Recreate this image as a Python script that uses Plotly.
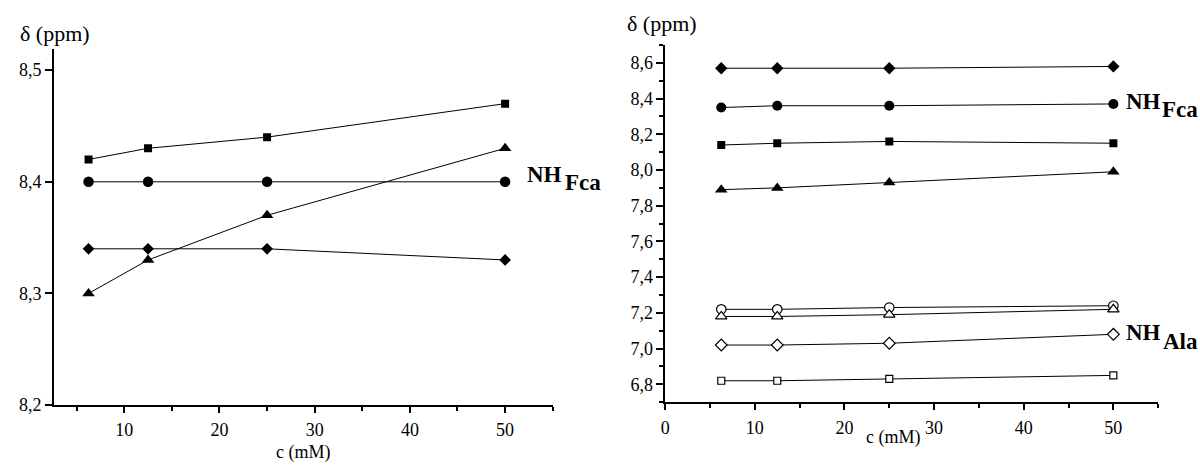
import plotly.graph_objects as go

W, H = 1200, 466

# ---- data ----
conc = [6.25, 12.5, 25, 50]

# left panel (NH Fca)
left_square = [8.42, 8.43, 8.44, 8.47]
left_circle = [8.40, 8.40, 8.40, 8.40]
left_triangle = [8.30, 8.33, 8.37, 8.43]
left_diamond = [8.34, 8.34, 8.34, 8.33]

# right panel, NH Fca (filled)
right_diamond = [8.57, 8.57, 8.57, 8.58]
right_circle = [8.35, 8.36, 8.36, 8.37]
right_square = [8.14, 8.15, 8.16, 8.15]
right_triangle = [7.89, 7.90, 7.93, 7.99]
# right panel, NH Ala (open)
right_circle_open = [7.22, 7.22, 7.23, 7.24]
right_triangle_open = [7.18, 7.18, 7.19, 7.22]
right_diamond_open = [7.02, 7.02, 7.03, 7.08]
right_square_open = [6.82, 6.82, 6.83, 6.85]

FONT = "'Liberation Serif', 'Times New Roman', Times, serif"


def px(x):
    return x / W


def py(y):
    return 1 - y / H


fig = go.Figure()


def add(y, symbol, size, xa, ya, open_=False):
    fig.add_trace(go.Scatter(
        x=conc, y=y, mode="lines+markers",
        line=dict(color="black", width=1),
        marker=dict(symbol=symbol, size=size,
                    color="white" if open_ else "black",
                    line=dict(color="black", width=1.2 if open_ else 0)),
        xaxis=xa, yaxis=ya, showlegend=False, hoverinfo="skip"))


add(left_square, "square", 8, "x", "y")
add(left_circle, "circle", 10.5, "x", "y")
add(left_triangle, "triangle-up", 11, "x", "y")
add(left_diamond, "diamond", 9, "x", "y")

add(right_diamond, "diamond", 9.5, "x2", "y2")
add(right_circle, "circle", 10, "x2", "y2")
add(right_square, "square", 8, "x2", "y2")
add(right_triangle, "triangle-up", 11, "x2", "y2")
add(right_circle_open, "circle", 9.5, "x2", "y2", True)
add(right_triangle_open, "triangle-up", 10, "x2", "y2", True)
add(right_diamond_open, "diamond", 9, "x2", "y2", True)
add(right_square_open, "square", 7, "x2", "y2", True)

axis_common = dict(showline=True, linecolor="black", linewidth=1.5,
                   showgrid=False, zeroline=False, ticks="outside",
                   tickcolor="black", tickwidth=1.5,
                   tickfont=dict(family=FONT, size=18, color="black"))

fig.update_layout(
    width=W, height=H, autosize=False,
    margin=dict(l=0, r=0, t=0, b=0),
    paper_bgcolor="white", plot_bgcolor="white",
    separators=", ",
    font=dict(family=FONT, size=18, color="black"),
    xaxis=dict(domain=[px(49), px(550)], range=[2.6, 55], anchor="y",
               tick0=0, dtick=10, ticklen=6, ticklabelstandoff=2,
               minor=dict(dtick=5, ticks="outside", ticklen=4, tickcolor="black", tickwidth=1.5),
               **axis_common),
    yaxis=dict(domain=[py(414), py(50)], range=[8.2, 8.519], anchor="x",
               tick0=8.2, dtick=0.1, tickformat=".1f", ticklen=7,
               **axis_common),
    xaxis2=dict(domain=[px(663), px(1158)], range=[0, 55], anchor="y2",
                tick0=0, dtick=10, ticklen=6, ticklabelstandoff=2,
                minor=dict(dtick=5, ticks="outside", ticklen=4, tickcolor="black", tickwidth=1.5),
                **axis_common),
    yaxis2=dict(domain=[py(411), py(46)], range=[6.7, 8.7], anchor="x2",
                tick0=6.8, dtick=0.2, tickformat=".1f", ticklen=7,
                minor=dict(dtick=0.1, ticks="outside", ticklen=4, tickcolor="black", tickwidth=1.5),
                **axis_common),
)


def label(text, x, y, size=19, xanchor="left", bold=False, yanchor="middle"):
    fig.add_annotation(
        text=f"<b>{text}</b>" if bold else text,
        x=px(x), y=py(y), xref="paper", yref="paper",
        xanchor=xanchor, yanchor=yanchor, showarrow=False,
        borderpad=0,
        font=dict(family=FONT, size=size, color="black"))


label("δ (ppm)", 14, 34, size=22)
label("δ (ppm)", 624, 24, size=22)
label("c (mM)", 299, 462, size=18, xanchor="center")
label("c (mM)", 892, 447, size=18, xanchor="center")

# NH labels
label("NH", 523, 178, size=23, bold=True)
label("Fca", 561, 187, size=23, bold=True)
label("NH", 1125, 104, size=23, bold=True)
label("Fca", 1161, 112, size=23, bold=True)
label("NH", 1125, 340, size=23, bold=True)
label("Ala", 1162, 349, size=23, bold=True)

page_css = (
    "var s='margin:0;padding:0;height:466px;overflow:hidden;line-height:0;font-size:0;';"
    "document.documentElement.style.cssText=s;"
    "document.body.style.cssText=s;"
    "if(document.body.firstElementChild){document.body.firstElementChild.style.cssText=s;}"
)

fig.write_html("out.html",
               config={"displayModeBar": False},
               post_script=page_css)
